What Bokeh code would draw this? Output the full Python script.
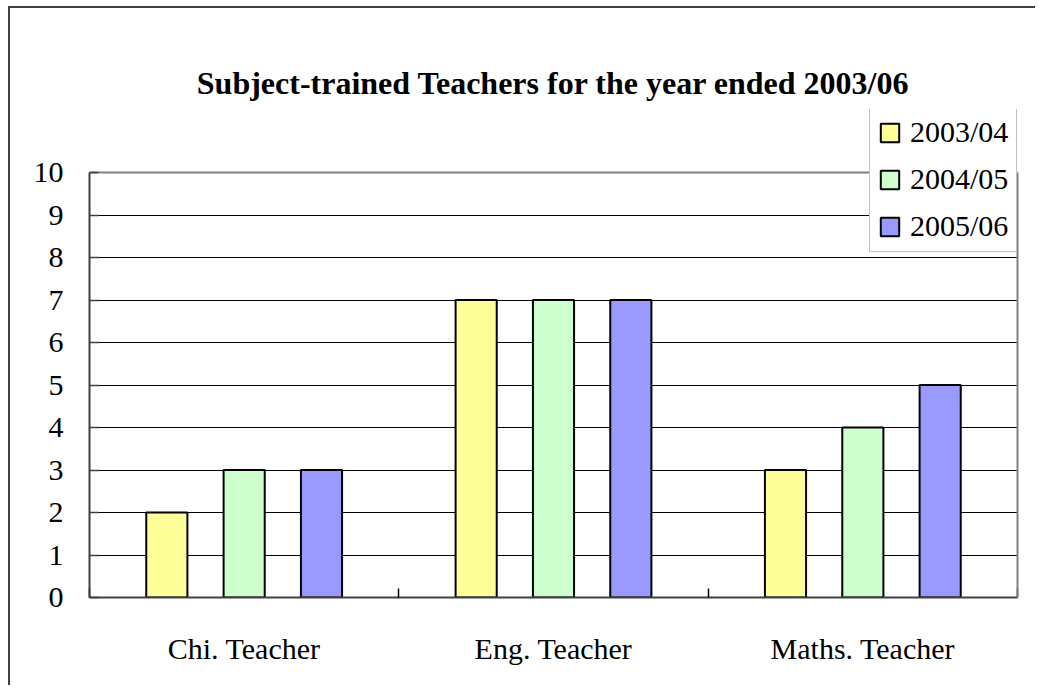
from bokeh.plotting import figure
from bokeh.models import (ColumnDataSource, FixedTicker, Legend, LegendItem, Range1d,
                          LinearAxis, Grid)
from bokeh.transform import dodge
from bokeh.embed import file_html
from bokeh.resources import INLINE

# ---- data ----
categories = ["Chi. Teacher", "Eng. Teacher", "Maths. Teacher"]
years = ["2003/04", "2004/05", "2005/06"]
values_2003_04 = [2, 7, 3]
values_2004_05 = [3, 7, 4]
values_2005_06 = [3, 7, 5]
y_ticks = [0, 1, 2, 3, 4, 5, 6, 7, 8, 9, 10]
colors = ["#FFFF99", "#CCFFCC", "#9999FF"]

centers = [i + 0.5 for i in range(len(categories))]
source = ColumnDataSource(dict(
    x=centers,
    y0=values_2003_04,
    y1=values_2004_05,
    y2=values_2005_06,
))

FONT = "Liberation Serif"
Y_MAX = y_ticks[-1]
# frame extends above the value axis so the legend can sit partly above it
Y_TOP = Y_MAX + 63 / 42.5

p = figure(
    width=1027, height=679,
    x_range=Range1d(0, len(categories)), y_range=Range1d(0, Y_TOP),
    output_backend="svg", toolbar_location=None,
    title="Subject-trained Teachers for the year ended 2003/06",
    min_border_left=79, min_border_right=20, min_border_top=101, min_border_bottom=90,
)
p.styles = {"margin-left": "8px", "margin-top": "6px",
            "border-left": "2px solid #404040", "border-top": "2px solid #404040"}
p.background_fill_color = "white"
p.border_fill_color = "white"
p.outline_line_color = None

p.title.text_font = FONT
p.title.text_font_size = "32px"
p.title.text_font_style = "bold"
p.title.text_color = "black"
p.title.align = "center"
p.title.standoff = 17

renderers = []
offsets = [-0.25, 0.0, 0.25]
for col, off, c in zip(["y0", "y1", "y2"], offsets, colors):
    r = p.vbar(x=dodge("x", off, range=p.x_range), top=col, bottom=0, width=0.133,
               source=source, fill_color=c, line_color="black", line_width=2)
    renderers.append(r)

# x axis: labels at category centres, ticks at category boundaries
p.xaxis.ticker = FixedTicker(ticks=centers, minor_ticks=list(range(len(categories) + 1)))
p.xaxis.major_label_overrides = {c: lab for c, lab in zip(centers, categories)}
p.xaxis.major_tick_in = 0
p.xaxis.major_tick_out = 0
p.xaxis.minor_tick_in = 9
p.xaxis.minor_tick_out = 0
p.xaxis.minor_tick_line_color = "black"
p.xaxis.minor_tick_line_width = 1.5
p.xaxis.axis_line_color = "#404040"
p.xaxis.axis_line_width = 2
p.xaxis.major_label_text_font = FONT
p.xaxis.major_label_text_font_size = "30px"
p.xaxis.major_label_text_color = "black"
p.xaxis.major_label_standoff = 34

# y axis (only 0..10)
p.yaxis.ticker = FixedTicker(ticks=y_ticks, minor_ticks=[])
p.yaxis.bounds = (0, Y_MAX)
p.yaxis.major_tick_in = 9
p.yaxis.major_tick_out = 0
p.yaxis.major_tick_line_color = "#404040"
p.yaxis.major_tick_line_width = 1.5
p.yaxis.minor_tick_line_color = None
p.yaxis.axis_line_color = "#404040"
p.yaxis.axis_line_width = 2
p.yaxis.major_label_text_font = FONT
p.yaxis.major_label_text_font_size = "30px"
p.yaxis.major_label_text_color = "black"
p.yaxis.major_label_standoff = 26

# right border of the plot area as a bare axis line
right = LinearAxis(bounds=(0, Y_MAX), ticker=FixedTicker(ticks=[], minor_ticks=[]),
                   axis_line_color="#808080", axis_line_width=2,
                   major_tick_line_color=None, minor_tick_line_color=None)
p.add_layout(right, "right")

p.xgrid.visible = False
p.ygrid.ticker = FixedTicker(ticks=y_ticks[:-1])
p.ygrid.grid_line_color = "black"
p.ygrid.grid_line_width = 1
top_grid = Grid(dimension=1, ticker=FixedTicker(ticks=[Y_MAX]),
                grid_line_color="#808080", grid_line_width=2)
p.add_layout(top_grid)

legend = Legend(
    items=[LegendItem(label=y, renderers=[r]) for y, r in zip(years, renderers)],
    location=(780, 345),
    label_text_font=FONT, label_text_font_size="30px", label_text_color="black",
    glyph_width=23, glyph_height=23, label_height=34, label_standoff=9,
    spacing=13, padding=8, margin=0,
    border_line_color="#808080", border_line_width=1,
    background_fill_color="white", background_fill_alpha=1.0,
)
p.add_layout(legend, "center")

open("out.html", "w").write(file_html(p, INLINE))
